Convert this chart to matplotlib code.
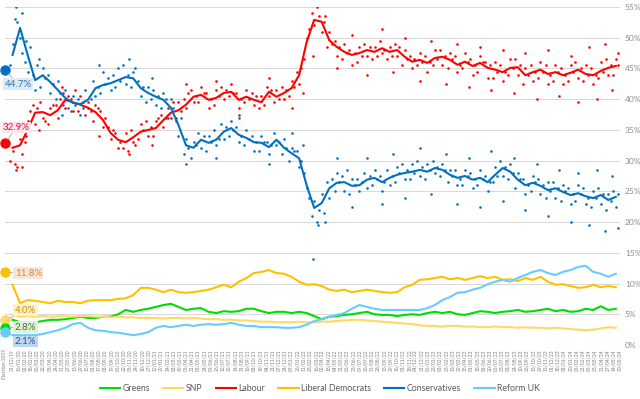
import numpy as np
import pandas as pd
import matplotlib
matplotlib.use("Agg")
import matplotlib.pyplot as plt

plt.rcParams['font.family'] = ['Lato', 'DejaVu Sans']

# x positions are days since the 2019 general election (12/12/2019)
election_date = pd.Timestamp("2019-12-12")
last_day = 1631  # 30/05/24

# rolling averages, one value every 20 days (day 20 .. 1620)
line_days = np.arange(20, 1621, 20)

con_line = [47.2, 51.6, 47.2, 43.1, 43.9, 42.8, 41.5, 40.2, 39.4, 39.2,
            39.9, 41.8, 42.3, 42.6, 43.1, 43.6, 43.4, 41.8, 41.0, 40.4,
            39.9, 38.6, 35.8, 32.5, 32.1, 33.4, 32.9, 33.4, 34.7, 35.3,
            34.2, 33.7, 33.0, 32.9, 32.2, 33.4, 32.1, 31.2, 30.4, 26.0,
            22.3, 23.1, 25.5, 26.4, 26.5, 25.9, 26.0, 26.9, 27.2, 26.5,
            27.2, 27.7, 28.0, 28.2, 28.5, 28.2, 28.8, 28.5, 27.7, 27.2,
            27.5, 26.9, 27.2, 26.5, 27.7, 28.8, 28.2, 26.9, 26.0, 26.4,
            25.9, 25.2, 25.5, 24.9, 24.4, 24.7, 24.2, 23.9, 24.4, 23.6,
            24.1]
lab_line = [32.1, 32.5, 35.0, 37.8, 37.9, 37.4, 38.2, 39.9, 39.5, 39.1,
            38.6, 37.9, 36.6, 34.5, 33.4, 33.0, 33.8, 34.7, 35.0, 35.3,
            36.6, 37.8, 38.2, 39.1, 40.4, 40.7, 39.9, 40.2, 41.0, 41.2,
            39.9, 40.4, 39.9, 39.5, 41.2, 40.4, 41.0, 41.8, 43.9, 49.3,
            52.9, 52.6, 49.6, 48.5, 47.7, 47.2, 47.5, 48.0, 47.7, 48.3,
            47.7, 48.0, 46.9, 46.1, 46.4, 45.9, 46.7, 46.9, 46.4, 45.6,
            46.1, 45.4, 45.9, 45.1, 44.8, 44.4, 45.1, 45.2, 43.9, 44.4,
            44.8, 44.1, 44.4, 43.9, 44.3, 44.8, 44.1, 43.9, 44.6, 45.1,
            45.4]
ld_line = [9.8, 6.8, 7.3, 7.2, 7.0, 6.8, 7.2, 7.0, 7.0, 6.8,
           7.2, 7.3, 7.3, 7.3, 7.5, 7.6, 8.1, 9.3, 9.3, 9.0,
           8.6, 9.0, 8.6, 8.5, 8.6, 8.8, 9.0, 9.4, 9.8, 9.4,
           10.3, 10.9, 11.7, 11.9, 12.2, 11.7, 11.6, 11.1, 10.3, 9.8,
           9.9, 9.6, 9.0, 8.8, 9.0, 8.6, 8.8, 9.0, 8.8, 8.6,
           8.5, 8.6, 9.4, 9.8, 10.6, 10.7, 10.9, 11.1, 10.7, 10.9,
           10.6, 10.9, 11.2, 10.9, 11.1, 10.6, 10.7, 10.4, 10.9, 10.6,
           11.1, 10.3, 9.8, 9.9, 9.6, 9.3, 9.4, 9.8, 9.4, 9.6,
           9.4]
green_line = [4.1, 3.7, 3.7, 3.7, 3.9, 4.1, 4.1, 4.2, 4.4, 4.6,
              4.4, 4.4, 4.6, 4.6, 5.0, 5.7, 5.4, 5.7, 5.9, 6.2,
              6.5, 6.7, 6.2, 5.7, 5.9, 6.0, 5.4, 5.2, 5.5, 5.4,
              5.5, 5.9, 5.9, 5.5, 5.2, 5.4, 5.4, 5.2, 5.4, 5.2,
              4.7, 4.2, 4.6, 4.7, 4.9, 5.0, 5.2, 5.4, 5.0, 4.9,
              4.9, 4.7, 4.9, 5.0, 4.9, 5.2, 5.4, 5.2, 5.4, 5.0,
              4.9, 5.2, 5.5, 5.4, 5.2, 5.4, 5.5, 5.7, 5.4, 5.5,
              5.7, 5.9, 5.5, 5.7, 5.4, 5.5, 5.9, 5.7, 6.3, 5.7,
              5.9]
snp_line = [4.9, 4.6, 4.7, 4.6, 4.7, 4.6, 4.7, 4.7, 4.6, 4.7,
            4.7, 4.6, 4.6, 4.5, 4.6, 4.5, 4.5, 4.4, 4.4, 4.4,
            4.3, 4.4, 4.4, 4.3, 4.4, 4.3, 4.2, 4.2, 4.1, 4.1,
            4.0, 4.0, 3.9, 3.8, 3.8, 3.7, 3.7, 3.7, 3.8, 3.7,
            3.7, 3.8, 3.8, 3.9, 4.0, 4.1, 4.1, 4.0, 3.9, 3.8,
            3.7, 3.6, 3.5, 3.4, 3.2, 3.1, 3.1, 3.0, 3.1, 3.1,
            3.0, 3.0, 2.9, 2.9, 3.0, 2.9, 2.9, 2.8, 2.9, 2.8,
            2.8, 2.7, 2.8, 2.7, 2.6, 2.5, 2.4, 2.5, 2.7, 2.9,
            2.8]
reform_line = [1.6, 1.6, 1.6, 1.6, 1.8, 2.1, 2.4, 2.8, 3.4, 3.6,
               2.8, 2.4, 2.3, 2.1, 2.0, 1.8, 1.6, 1.8, 2.1, 2.8,
               3.1, 2.9, 3.1, 3.3, 3.1, 3.3, 3.4, 3.3, 3.4, 3.6,
               3.3, 3.1, 3.1, 2.9, 2.9, 2.9, 2.8, 2.8, 2.9, 3.3,
               3.9, 4.2, 4.6, 4.9, 5.2, 5.9, 6.5, 6.2, 5.9, 5.7,
               5.7, 5.7, 5.7, 5.7, 5.7, 6.0, 6.5, 7.3, 7.8, 8.5,
               8.6, 9.0, 9.3, 9.9, 10.3, 10.6, 10.3, 10.9, 11.4, 11.9,
               12.2, 11.7, 11.4, 11.9, 12.2, 12.7, 12.9, 11.9, 11.6, 11.1,
               11.6]

# individual polls (Con and Lab only)
poll_days = [14, 20, 26, 33, 40, 46, 53, 60, 66, 74, 80, 86, 94, 100, 106,
             113, 120, 127, 134, 140, 146, 153, 160, 167, 174, 180, 186,
             194, 200, 206, 213, 220, 227, 234, 240, 247, 253, 260, 266,
             274, 280, 287, 293, 300, 306, 314, 320, 327, 333, 340, 346,
             354, 360, 367, 374, 380, 386, 393, 400, 407, 414, 420, 427,
             433, 440, 446, 454, 460, 467, 474, 480, 486, 494, 500, 506,
             513, 520, 527, 534, 540, 546, 553, 560, 567, 574, 580, 586,
             594, 600, 606, 613, 620, 627, 633, 640, 646, 654, 660, 667,
             674, 680, 686, 694, 700, 706, 713, 720, 727, 734, 740, 746,
             753, 760, 767, 774, 780, 786, 794, 800, 806, 813, 820, 827,
             834, 840, 846, 853, 860, 867, 874, 880, 886, 894, 900, 906,
             913, 920, 927, 934, 940, 946, 953, 960, 967, 974, 980, 986,
             994, 1000, 1006, 1013, 1020, 1027, 1034, 1040, 1046, 1053, 1060, 1067,
             1074, 1080, 1086, 1094, 1100, 1106, 1113, 1120, 1127, 1134, 1140, 1146,
             1153, 1160, 1167, 1174, 1180, 1186, 1194, 1200, 1206, 1213, 1220, 1227,
             1234, 1240, 1246, 1253, 1260, 1267, 1274, 1280, 1286, 1294, 1300, 1306,
             1313, 1320, 1327, 1334, 1340, 1346, 1353, 1360, 1367, 1374, 1380, 1386,
             1394, 1400, 1406, 1413, 1420, 1427, 1434, 1440, 1446, 1453, 1460, 1467,
             1474, 1480, 1486, 1494, 1500, 1506, 1513, 1520, 1527, 1534, 1540, 1546,
             1553, 1560, 1567, 1574, 1580, 1586, 1594, 1600, 1606, 1613, 1620, 1626,
             30, 45, 57, 90, 150, 250, 330, 390, 480, 560, 620, 700, 760, 790,
             817, 830, 850, 880, 920, 960, 1000, 1030, 1060, 1100, 1130, 1170,
             1200, 1230, 1260, 1290, 1320, 1350, 1380, 1410, 1440, 1470, 1500,
             1520, 1550, 1570, 1590, 1610, 1625]
con_polls = [45.5, 49.0, 53.0, 52.5, 50.0, 47.5, 46.0, 44.5, 48.5, 44.0, 41.5, 45.5,
             42.0, 45.0, 43.5, 44.0, 41.0, 42.5, 40.0, 43.0, 41.0, 39.0, 41.5, 38.5,
             38.0, 40.5, 39.0, 40.0, 37.5, 38.5, 41.5, 38.5, 40.0, 43.0, 40.5, 42.0,
             41.0, 44.5, 42.5, 43.5, 41.5, 44.0, 42.0, 45.0, 43.0, 45.5, 42.5, 44.0,
             42.0, 44.5, 45.0, 43.0, 40.5, 42.0, 39.5, 42.0, 40.0, 41.5, 39.0, 40.5,
             38.5, 41.0, 40.0, 37.0, 40.0, 38.5, 36.5, 34.0, 37.0, 31.0, 33.5, 32.0,
             30.5, 33.0, 32.5, 34.5, 32.0, 34.0, 31.5, 34.0, 33.0, 35.0, 32.5, 33.5,
             36.0, 33.5, 35.5, 34.0, 36.5, 35.0, 35.5, 33.0, 34.0, 32.5, 35.0, 33.5,
             34.0, 31.5, 33.0, 31.5, 34.0, 33.0, 33.0, 31.0, 32.5, 34.5, 32.5, 33.0,
             31.0, 33.5, 32.0, 30.0, 32.0, 31.5, 31.5, 29.0, 30.0, 28.0, 25.5, 24.0,
             21.0, 23.5, 20.0, 22.0, 24.5, 21.5, 26.5, 24.0, 27.0, 25.0, 28.0, 26.5,
             27.5, 25.0, 28.5, 24.5, 27.0, 26.0, 27.0, 25.0, 26.5, 28.0, 25.5, 27.5,
             26.0, 28.5, 27.0, 27.5, 25.0, 26.5, 28.5, 26.0, 27.5, 26.5, 29.0, 28.0,
             29.5, 27.0, 28.5, 27.0, 29.5, 28.0, 30.0, 27.5, 29.0, 27.0, 29.5, 28.5,
             30.0, 28.0, 29.0, 27.5, 29.5, 28.5, 26.5, 28.5, 27.5, 28.5, 26.0, 27.0,
             26.0, 28.5, 27.5, 28.0, 25.5, 27.0, 26.0, 28.5, 27.0, 27.5, 25.0, 26.5,
             26.5, 29.0, 27.5, 30.0, 27.5, 29.0, 27.0, 29.5, 28.0, 25.5, 28.0, 27.0,
             27.0, 24.5, 26.0, 25.0, 27.5, 26.5, 27.0, 24.5, 26.0, 24.0, 26.5, 25.0,
             26.5, 24.0, 25.5, 23.5, 26.0, 25.0, 25.5, 23.0, 24.5, 23.5, 26.0, 24.5,
             25.5, 23.0, 24.0, 22.5, 25.0, 24.0, 25.5, 23.0, 24.5, 22.0, 24.5, 23.5,
             25.0, 22.5, 24.5,
             55.0, 54.0, 49.5, 46.5, 37.5, 45.5, 46.5, 43.5, 29.5, 30.5, 37.0, 29.5,
             34.5, 32.5, 14.0, 19.5, 20.0, 30.5, 22.5, 30.5, 23.0, 31.0, 24.0, 32.0,
             24.5, 31.0, 23.0, 30.5, 22.5, 31.5, 23.5, 30.5, 22.0, 29.5, 21.0, 28.5,
             20.0, 28.0, 19.5, 28.5, 18.5, 27.5, 19.0]
lab_polls = [30.0, 31.5, 29.5, 29.0, 33.5, 31.0, 33.0, 36.5, 38.0, 39.0, 36.0, 38.5,
             39.5, 37.0, 36.5, 36.0, 38.5, 39.0, 39.0, 37.0, 40.0, 41.0, 38.5, 40.5,
             40.0, 38.0, 41.5, 38.0, 40.5, 39.5, 37.5, 39.5, 38.0, 36.5, 39.0, 38.5,
             38.0, 35.5, 37.0, 35.5, 33.5, 35.0, 34.5, 32.0, 33.0, 32.0, 34.5, 31.5,
             35.0, 33.0, 32.5, 33.5, 36.0, 35.0, 36.5, 34.0, 35.5, 34.0, 36.5, 37.0,
             37.5, 35.5, 37.0, 38.5, 37.0, 39.5, 37.0, 39.5, 38.0, 40.0, 38.5, 41.0,
             41.5, 39.5, 40.5, 39.5, 42.0, 41.0, 41.0, 38.5, 40.0, 39.0, 41.5, 40.5,
             42.0, 40.0, 41.5, 40.5, 42.5, 41.0, 41.0, 38.5, 40.0, 39.5, 41.5, 40.0,
             41.0, 39.0, 40.5, 38.5, 40.5, 39.0, 42.0, 40.5, 41.5, 39.5, 41.5, 40.0,
             42.0, 40.0, 41.5, 40.5, 43.0, 42.0, 44.5, 42.5, 45.0, 46.5, 50.0, 51.5,
             54.0, 52.0, 55.0, 53.5, 51.0, 52.5, 48.5, 51.0, 49.0, 49.5, 47.0, 48.5,
             46.5, 49.0, 47.5, 48.0, 45.5, 47.5, 46.0, 48.5, 47.0, 49.0, 47.0, 48.5,
             46.5, 48.5, 47.0, 49.5, 47.5, 48.0, 46.5, 48.5, 47.0, 49.0, 47.0, 48.5,
             45.5, 48.0, 46.5, 47.0, 45.0, 46.5, 45.5, 47.5, 46.0, 47.0, 44.5, 46.0,
             45.5, 48.0, 46.5, 48.0, 45.5, 47.0, 45.0, 47.5, 46.5, 47.0, 44.5, 45.5,
             45.0, 47.5, 46.0, 46.5, 44.0, 45.5, 44.5, 47.0, 46.0, 46.0, 43.5, 45.5,
             43.5, 46.0, 44.5, 45.5, 43.0, 44.5, 44.0, 46.5, 45.0, 46.5, 44.0, 45.5,
             42.5, 45.0, 44.0, 45.5, 43.0, 44.5, 43.5, 46.0, 44.5, 45.5, 42.5, 44.0,
             43.0, 45.5, 44.5, 45.0, 42.5, 44.0, 43.0, 45.5, 44.5, 46.0, 43.5, 45.0,
             43.0, 45.5, 44.0, 45.0, 42.5, 44.0, 43.5, 46.0, 44.5, 46.5, 44.0, 45.5,
             44.0, 46.5, 45.5,
             28.5, 29.0, 34.0, 35.0, 42.0, 34.0, 31.0, 32.5, 42.5, 43.0, 37.5, 43.5,
             38.5, 41.0, 47.0, 56.0, 53.5, 45.0, 50.5, 44.0, 51.5, 44.5, 50.0, 43.0,
             49.5, 42.5, 49.0, 42.0, 48.5, 41.5, 48.0, 41.0, 47.5, 40.0, 48.0, 40.5,
             47.0, 39.5, 48.5, 40.0, 49.0, 41.5, 47.5]

# 2019 general election result
ge_parties = ["Conservatives", "Labour", "Liberal Democrats", "SNP", "Greens", "Reform UK"]
ge_values = [44.7, 32.9, 11.8, 4.0, 2.8, 2.1]

colors = {"Greens": "#00DD00", "SNP": "#FFD966", "Labour": "#FF0000",
          "Liberal Democrats": "#FFC000", "Conservatives": "#0070C0",
          "Reform UK": "#66CCFF"}

fig = plt.figure(figsize=(6.4, 3.99), dpi=100)
ax = fig.add_axes([5 / 640, 54 / 399, 615 / 640, 338 / 399])

ax.scatter(poll_days, con_polls, s=3.5, color=colors["Conservatives"], lw=0, zorder=2)
ax.scatter(poll_days, lab_polls, s=3.5, color=colors["Labour"], lw=0, zorder=2)

series = [("Greens", green_line), ("SNP", snp_line), ("Labour", lab_line),
          ("Liberal Democrats", ld_line), ("Conservatives", con_line),
          ("Reform UK", reform_line)]
handles = []
for name, vals in series:
    h, = ax.plot(line_days, vals, color=colors[name], lw=1.5, label=name, zorder=3)
    handles.append(h)

# election markers with value boxes
label_style = {
    "Conservatives": ((9, -10), "#2E75B6", "#DDEBF7"),
    "Labour": ((8, 11), "#E8153C", "#FCE4EC"),
    "Liberal Democrats": ((16.5, -0.7), "#E8822A", "#FBE5D6"),
    "SNP": ((14.5, 7.5), "#BF9000", "#FFF2CC"),
    "Greens": ((14.5, 0.5), "#3A7D22", "#E2F0D9"),
    "Reform UK": ((14.5, -6.8), "#2F5597", "#BDD7EE"),
}
for name, val in zip(ge_parties, ge_values):
    ax.plot([1], [val], "o", ms=6.5, color=colors[name], clip_on=False, zorder=5)
    off, tc, bg = label_style[name]
    ax.annotate(f"{val:.1f}%", xy=(1, val), xytext=off, textcoords="offset points",
                ha="center", va="center", fontsize=7, color=tc,
                bbox=dict(boxstyle="square,pad=0.15", fc=bg, ec="none"),
                arrowprops=dict(arrowstyle="-", color="#A6A6A6", lw=0.6,
                                shrinkA=0, shrinkB=3),
                annotation_clip=False, zorder=6)

ax.set_xlim(0, last_day)
ax.set_ylim(0, 55)
ax.set_yticks(range(0, 56, 5))
ax.set_yticklabels([f"{v}%" for v in range(0, 56, 5)])
ax.yaxis.tick_right()
ax.tick_params(axis="y", length=0, pad=3.5, labelsize=6, labelcolor="#8C8C8C")
ax.grid(axis="y", color="#D9D9D9", lw=0.75)
ax.set_axisbelow(True)
for s in ax.spines.values():
    s.set_visible(False)

tick_days = [0] + list(np.arange(19, last_day + 1, 16.45))
tick_labels = ["Election 2019"] + [(election_date + pd.Timedelta(days=int(round(d)))).strftime("%d/%m/%y")
                                   for d in tick_days[1:]]
ax.set_xticks(tick_days)
ax.set_xticklabels(tick_labels, rotation=90, fontsize=3.5, color="#7F7F7F")
ax.tick_params(axis="x", length=0, pad=3)

fig.legend(handles, [h.get_label() for h in handles], loc="lower center",
           bbox_to_anchor=(0.5, -0.005), ncol=6, frameon=False, fontsize=6.3,
           handlelength=2.3, columnspacing=1.5, handletextpad=0.3,
           labelcolor="#595959")

fig.savefig("out.png", dpi=100)
